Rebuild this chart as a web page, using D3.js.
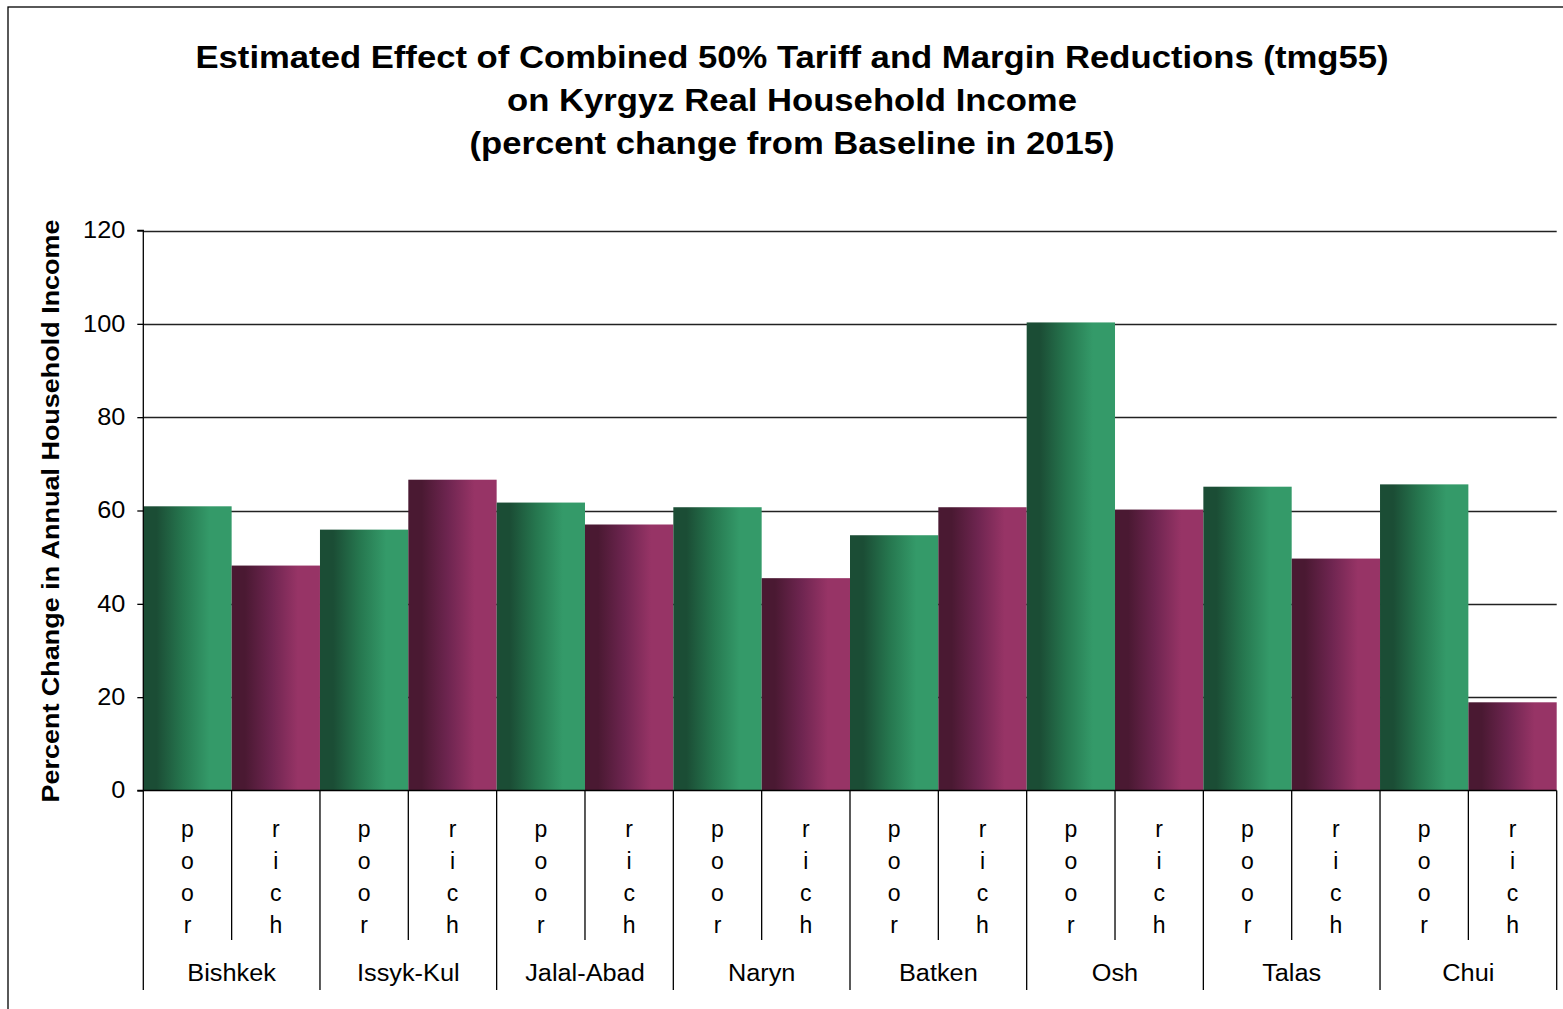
<!DOCTYPE html>
<html>
<head>
<meta charset="utf-8">
<script src="https://cdn.jsdelivr.net/npm/d3@7"></script>
<style>
  html, body { margin: 0; padding: 0; background: #fff; }
  svg { display: block; }
  text { font-family: "Liberation Sans", Arial, sans-serif; fill: #000; }
</style>
</head>
<body>
<svg id="chart" width="1563" height="1009"></svg>
<script>
const regions = ["Bishkek", "Issyk-Kul", "Jalal-Abad", "Naryn", "Batken", "Osh", "Talas", "Chui"];
const groups = ["poor", "rich"];
const poorValues = [60.9, 55.9, 61.7, 60.7, 54.7, 100.3, 65.1, 65.6];
const richValues = [48.2, 66.6, 57.0, 45.5, 60.7, 60.2, 49.7, 18.9];
const yTicks = [0, 20, 40, 60, 80, 100, 120];
const titleLines = [
  "Estimated Effect of Combined 50% Tariff and Margin Reductions (tmg55)",
  "on Kyrgyz Real Household Income",
  "(percent change from Baseline in 2015)"
];
const yAxisTitle = "Percent Change in Annual Household Income";

(function () {
const rows = [];
regions.forEach((r, i) => {
  rows.push({ region: r, group: "poor", value: poorValues[i], key: r + "|poor" });
  rows.push({ region: r, group: "rich", value: richValues[i], key: r + "|rich" });
});

const svg = d3.select("#chart");
const pL = 143.3, pR = 1556.7, pT = 230.5, pB = 790.5;
const stretch = 1.1;

function widen(sel) {
  sel.each(function () {
    const w = this.getComputedTextLength();
    d3.select(this).attr("textLength", w * stretch).attr("lengthAdjust", "spacingAndGlyphs");
  });
}

// outer frame
svg.append("rect").attr("x", 8).attr("y", 7).attr("width", 1600).attr("height", 1100)
  .attr("fill", "none").attr("stroke", "#000").attr("stroke-width", 1.3);

// gradients
const defs = svg.append("defs");
function grad(id, c0, c1, c2) {
  const g = defs.append("linearGradient").attr("id", id)
    .attr("x1", "0%").attr("x2", "100%").attr("y1", "0%").attr("y2", "0%");
  g.append("stop").attr("offset", "0%").attr("stop-color", c0);
  g.append("stop").attr("offset", "15%").attr("stop-color", c0);
  g.append("stop").attr("offset", "45%").attr("stop-color", c1);
  g.append("stop").attr("offset", "75%").attr("stop-color", c2);
  g.append("stop").attr("offset", "100%").attr("stop-color", c2);
}
grad("gPoor", "#1b4d35", "#26774f", "#349a69");
grad("gRich", "#4a1932", "#6e2550", "#973466");

// title
svg.append("g").selectAll("text").data(titleLines).join("text")
  .attr("x", 792).attr("y", (d, i) => 68 + i * 43)
  .attr("text-anchor", "middle")
  .style("font-size", "31.5px").style("font-weight", "bold")
  .text(d => d)
  .each(function () {
    const w = this.getComputedTextLength();
    d3.select(this).attr("textLength", w * 1.1).attr("lengthAdjust", "spacingAndGlyphs");
  });

// scales
const x = d3.scaleBand().domain(rows.map(d => d.key)).range([pL, pR]).padding(0);
const y = d3.scaleLinear().domain([0, 120]).range([pB, pT]);

// gridlines
svg.append("g").selectAll("line").data(yTicks.filter(t => t > 0)).join("line")
  .attr("x1", pL).attr("x2", pR)
  .attr("y1", d => Math.round(y(d)) + 0.5).attr("y2", d => Math.round(y(d)) + 0.5)
  .attr("stroke", "#222").attr("stroke-width", 1.3);

// bars
svg.append("g").selectAll("rect").data(rows).join("rect")
  .attr("x", d => x(d.key))
  .attr("y", d => y(d.value))
  .attr("width", x.bandwidth())
  .attr("height", d => y(0) - y(d.value))
  .attr("fill", d => d.group === "poor" ? "url(#gPoor)" : "url(#gRich)");

// y axis
const yAxis = d3.axisLeft(y).tickValues(yTicks).tickSize(6).tickPadding(12);
const ya = svg.append("g").attr("transform", `translate(${pL},0)`).call(yAxis);
ya.select(".domain").attr("stroke", "#000").attr("stroke-width", 1.3).attr("d", `M-6,${pT}H0V${pB}`);
ya.selectAll(".tick line").attr("stroke", "#000").attr("stroke-width", 1.3);
ya.selectAll(".tick text").style("font-size", "23px").style("font-family", "Liberation Sans, Arial, sans-serif").attr("fill", "#000");
widen(ya.selectAll(".tick text"));

// x axis baseline
svg.append("line").attr("x1", pL - 6).attr("x2", pR).attr("y1", pB).attr("y2", pB)
  .attr("stroke", "#000").attr("stroke-width", 1.5);

// category dividers
const bw = x.bandwidth();
const xg = svg.append("g");
rows.forEach(d => {
  const xl = x(d.key);
  xg.append("line").attr("x1", xl).attr("x2", xl).attr("y1", pB)
    .attr("y2", d.group === "poor" ? 990 : 940)
    .attr("stroke", "#000").attr("stroke-width", 1.3);
});
xg.append("line").attr("x1", pR).attr("x2", pR).attr("y1", pB).attr("y2", 990)
  .attr("stroke", "#000").attr("stroke-width", 1.3);

// stacked letters
rows.forEach(d => {
  const cx = x(d.key) + bw / 2;
  d.group.split("").forEach((ch, j) => {
    xg.append("text").attr("x", cx).attr("y", 837 + j * 32)
      .attr("text-anchor", "middle").style("font-size", "23px").text(ch);
  });
});

// region labels
regions.forEach(r => {
  const cx = x(r + "|rich");
  const t = xg.append("text").attr("x", cx).attr("y", 981)
    .attr("text-anchor", "middle").style("font-size", "23px").text(r);
  widen(t);
});

// y axis title
const yt = svg.append("text")
  .attr("transform", `translate(59,511) rotate(-90)`)
  .attr("text-anchor", "middle")
  .style("font-size", "24.5px").style("font-weight", "bold")
  .text(yAxisTitle);
widen(yt);
})();
</script>
</body>
</html>
